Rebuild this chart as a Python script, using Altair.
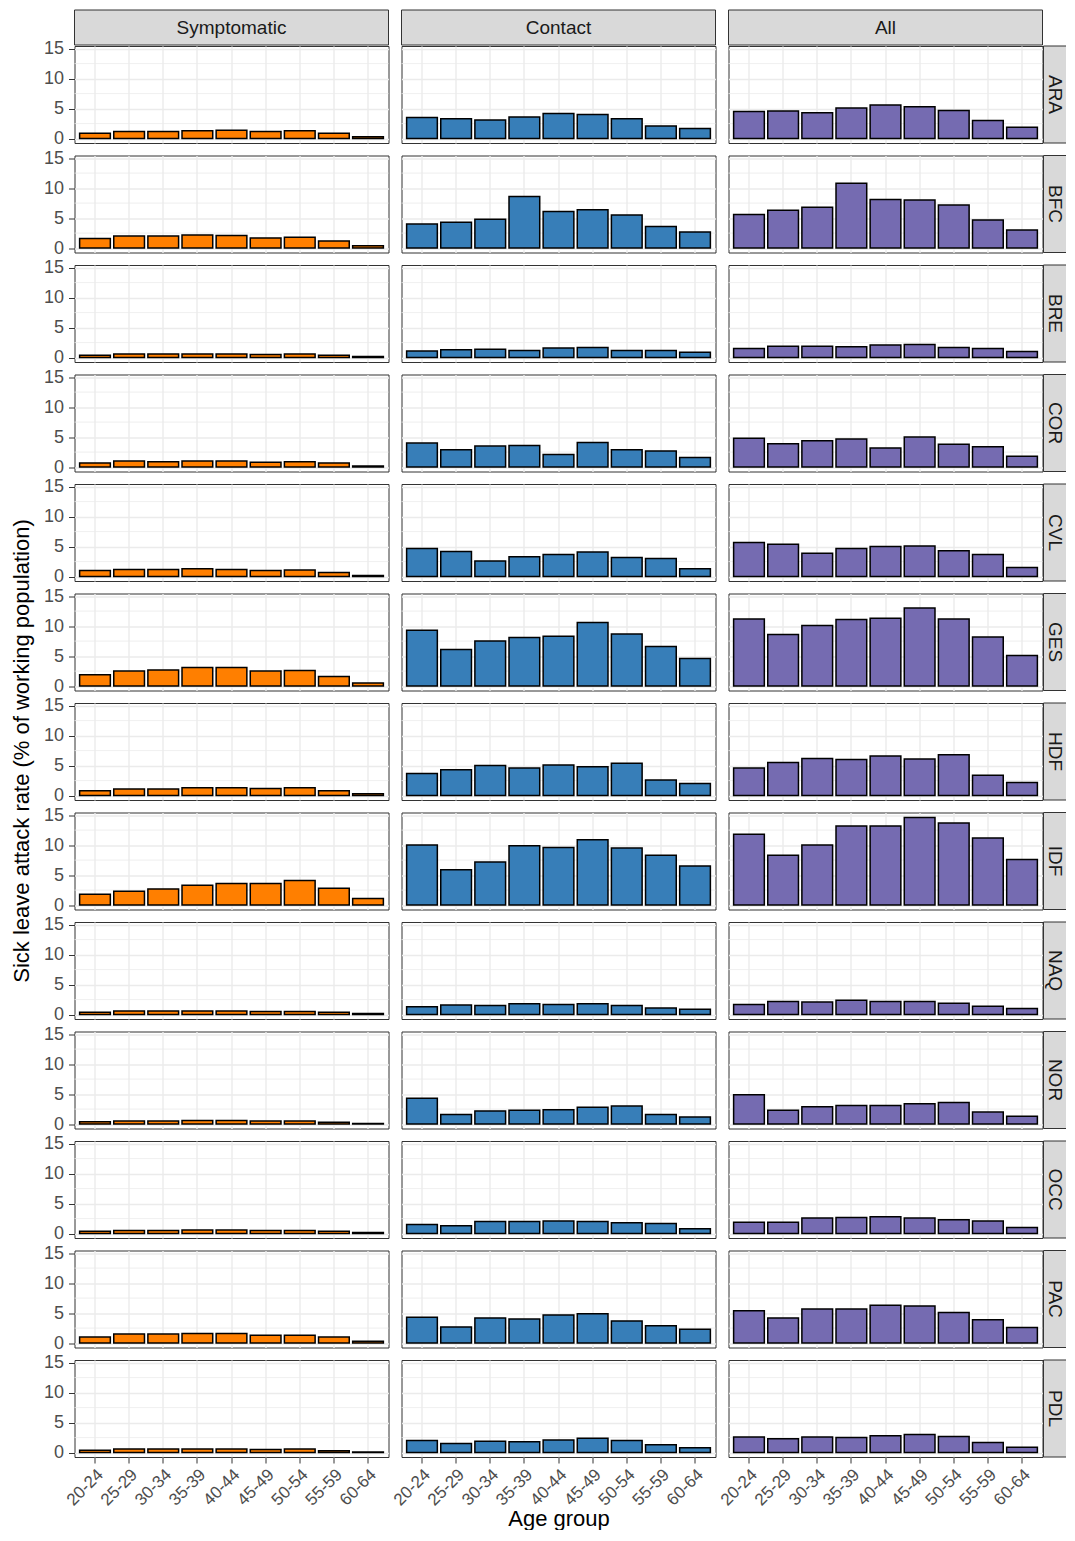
import altair as alt
import pandas as pd

regions = ["ARA", "BFC", "BRE", "COR", "CVL", "GES", "HDF", "IDF", "NAQ", "NOR", "OCC", "PAC", "PDL"]
ages = ["20-24", "25-29", "30-34", "35-39", "40-44", "45-49", "50-54", "55-59", "60-64"]
types = ["Symptomatic", "Contact", "All"]
colors = {"Symptomatic": "#FF7F00", "Contact": "#377EB8", "All": "#756BB1"}

symptomatic = {
    "ARA": [0.9, 1.2, 1.2, 1.3, 1.4, 1.2, 1.3, 0.9, 0.3],
    "BFC": [1.6, 2.0, 2.0, 2.2, 2.1, 1.7, 1.8, 1.2, 0.4],
    "BRE": [0.4, 0.6, 0.6, 0.6, 0.6, 0.5, 0.6, 0.4, 0.2],
    "COR": [0.7, 1.0, 0.9, 1.0, 1.0, 0.8, 0.9, 0.7, 0.2],
    "CVL": [1.0, 1.2, 1.2, 1.3, 1.2, 1.0, 1.1, 0.7, 0.2],
    "GES": [1.9, 2.5, 2.7, 3.1, 3.1, 2.5, 2.6, 1.6, 0.5],
    "HDF": [0.8, 1.1, 1.1, 1.3, 1.3, 1.2, 1.3, 0.8, 0.3],
    "IDF": [1.8, 2.3, 2.7, 3.3, 3.6, 3.6, 4.1, 2.8, 1.1],
    "NAQ": [0.4, 0.6, 0.6, 0.6, 0.6, 0.5, 0.5, 0.4, 0.2],
    "NOR": [0.4, 0.5, 0.5, 0.6, 0.6, 0.5, 0.5, 0.3, 0.1],
    "OCC": [0.4, 0.5, 0.5, 0.6, 0.6, 0.5, 0.5, 0.4, 0.2],
    "PAC": [1.0, 1.5, 1.5, 1.6, 1.6, 1.3, 1.3, 1.0, 0.3],
    "PDL": [0.4, 0.6, 0.6, 0.6, 0.6, 0.5, 0.6, 0.3, 0.1],
}
contact = {
    "ARA": [3.5, 3.3, 3.1, 3.6, 4.2, 4.0, 3.3, 2.1, 1.7],
    "BFC": [4.0, 4.3, 4.8, 8.6, 6.1, 6.4, 5.5, 3.6, 2.7],
    "BRE": [1.1, 1.3, 1.4, 1.2, 1.6, 1.7, 1.2, 1.2, 0.9],
    "COR": [4.0, 2.9, 3.5, 3.6, 2.1, 4.1, 2.9, 2.7, 1.6],
    "CVL": [4.7, 4.2, 2.6, 3.3, 3.7, 4.1, 3.2, 3.0, 1.3],
    "GES": [9.3, 6.1, 7.5, 8.1, 8.3, 10.6, 8.7, 6.6, 4.6],
    "HDF": [3.7, 4.3, 5.0, 4.6, 5.1, 4.8, 5.4, 2.6, 2.0],
    "IDF": [10.0, 5.9, 7.2, 9.9, 9.6, 10.9, 9.5, 8.3, 6.5],
    "NAQ": [1.3, 1.6, 1.5, 1.8, 1.7, 1.8, 1.5, 1.1, 0.9],
    "NOR": [4.3, 1.6, 2.2, 2.3, 2.4, 2.8, 3.0, 1.6, 1.2],
    "OCC": [1.5, 1.3, 2.0, 2.0, 2.1, 2.0, 1.8, 1.7, 0.8],
    "PAC": [4.3, 2.7, 4.2, 4.0, 4.7, 4.9, 3.7, 2.9, 2.3],
    "PDL": [2.0, 1.5, 1.9, 1.8, 2.1, 2.4, 2.0, 1.3, 0.8],
}
all_leave = {
    "ARA": [4.5, 4.6, 4.3, 5.1, 5.6, 5.3, 4.7, 3.0, 1.9],
    "BFC": [5.6, 6.3, 6.8, 10.8, 8.1, 8.0, 7.2, 4.7, 3.0],
    "BRE": [1.5, 1.9, 1.9, 1.8, 2.1, 2.2, 1.7, 1.5, 1.0],
    "COR": [4.8, 3.9, 4.4, 4.7, 3.2, 5.0, 3.8, 3.4, 1.8],
    "CVL": [5.7, 5.4, 3.9, 4.7, 5.0, 5.1, 4.3, 3.7, 1.5],
    "GES": [11.2, 8.6, 10.1, 11.1, 11.3, 13.0, 11.2, 8.2, 5.1],
    "HDF": [4.6, 5.5, 6.2, 6.0, 6.6, 6.1, 6.8, 3.4, 2.2],
    "IDF": [11.8, 8.3, 10.0, 13.2, 13.2, 14.6, 13.7, 11.2, 7.6],
    "NAQ": [1.7, 2.2, 2.1, 2.4, 2.2, 2.2, 1.9, 1.4, 1.0],
    "NOR": [4.9, 2.3, 2.9, 3.1, 3.1, 3.4, 3.6, 2.0, 1.3],
    "OCC": [1.9, 1.9, 2.6, 2.7, 2.8, 2.6, 2.3, 2.1, 1.0],
    "PAC": [5.4, 4.2, 5.7, 5.7, 6.3, 6.2, 5.1, 3.9, 2.6],
    "PDL": [2.6, 2.3, 2.6, 2.5, 2.8, 3.0, 2.7, 1.7, 0.9],
}
series = {"Symptomatic": symptomatic, "Contact": contact, "All": all_leave}

y_major = [0, 5, 10, 15]
y_minor = [2.5, 7.5, 12.5]
y_title = "Sick leave attack rate (% of working population)"
x_title = "Age group"

FONT = "Liberation Sans"
W, H = 314, 97
Y_DOMAIN = [-0.735, 15.435]

rows = []
for t in types:
    for r in regions:
        for a, v in zip(ages, series[t][r]):
            rows.append({"type": t, "region": r, "age": a, "value": v})
df = pd.DataFrame(rows)
minor_df = pd.DataFrame({"value": y_minor})


def panel(region, typ, first_row, last_row, first_col, last_col):
    d = df[(df["region"] == region) & (df["type"] == typ)]
    xkw = dict(domain=False, grid=True, bandPosition=0.5, labels=last_row, ticks=last_row)
    if last_row:
        xkw.update(labelAngle=-45, labelAlign="right", labelBaseline="top", labelFontSize=17, labelPadding=3)
    if last_row and typ == "Contact":
        xkw["title"] = x_title
    else:
        xkw["title"] = None
    ykw = dict(domain=False, grid=True, values=y_major, labels=first_col, ticks=first_col, title=None)
    yscale = alt.Scale(domain=Y_DOMAIN, nice=False, zero=False)
    yaxis = alt.Axis(**ykw)

    minor = alt.Chart(minor_df).mark_rule(color="#EBEBEB", strokeWidth=0.8).encode(
        y=alt.Y("value:Q", scale=yscale, axis=yaxis)
    )
    bars = alt.Chart(d).mark_bar(stroke="black", strokeWidth=1.5, color=colors[typ]).encode(
        x=alt.X("age:N", sort=ages, scale=alt.Scale(paddingInner=0.1, paddingOuter=0.15), axis=alt.Axis(**xkw)),
        y=alt.Y("value:Q", scale=yscale, axis=yaxis),
        y2=alt.datum(0),
    )
    layers = [minor, bars]
    if first_row:
        lab = pd.DataFrame({"label": [typ]})
        layers.append(alt.Chart(lab).mark_rect(fill="#D9D9D9", stroke="#333333", strokeWidth=1).encode(
            x=alt.value(0), x2=alt.value(W), y=alt.value(-36), y2=alt.value(-1)))
        layers.append(alt.Chart(lab).mark_text(font=FONT, fontSize=19, color="#1A1A1A", baseline="middle").encode(
            x=alt.value(W / 2), y=alt.value(-18), text="label:N"))
    if last_col:
        lab = pd.DataFrame({"label": [region]})
        layers.append(alt.Chart(lab).mark_rect(fill="#D9D9D9", stroke="#333333", strokeWidth=1).encode(
            x=alt.value(W + 1), x2=alt.value(W + 33), y=alt.value(0), y2=alt.value(H)))
        layers.append(alt.Chart(lab).mark_text(font=FONT, fontSize=19, color="#1A1A1A", angle=90, baseline="middle").encode(
            x=alt.value(W + 12.5), y=alt.value(H / 2), text="label:N"))
    return alt.layer(*layers).properties(width=W, height=H)


cells = []
for i, r in enumerate(regions):
    for j, t in enumerate(types):
        cells.append(panel(r, t, i == 0, i == len(regions) - 1, j == 0, j == len(types) - 1))

grid = alt.concat(*cells, columns=3, spacing={"row": 12.5, "column": 13}, bounds="flush", align="all")

ytitle = alt.Chart(pd.DataFrame({"t": [y_title]})).mark_text(
    font=FONT, fontSize=22, color="black", angle=270, baseline="middle"
).encode(text="t:N", x=alt.value(14), y=alt.value(705)).properties(
    width=24, height=1400, view=alt.ViewBackground(strokeOpacity=0)
)

chart = alt.hconcat(ytitle, grid, spacing=9.5).properties(
    padding={"left": 0, "top": 1, "right": -11, "bottom": 0}
).configure_view(stroke="#333333", strokeWidth=1).configure_axis(
    labelFont=FONT, titleFont=FONT, labelColor="#4D4D4D", tickColor="#333333",
    gridColor="#EBEBEB", gridWidth=1.4, labelFontSize=18, titleFontSize=22,
    titleColor="black", titleFontWeight="normal", tickSize=6, labelPadding=5, titlePadding=0
)

chart.save("out.html", embed_options={"renderer": "svg", "actions": False})
